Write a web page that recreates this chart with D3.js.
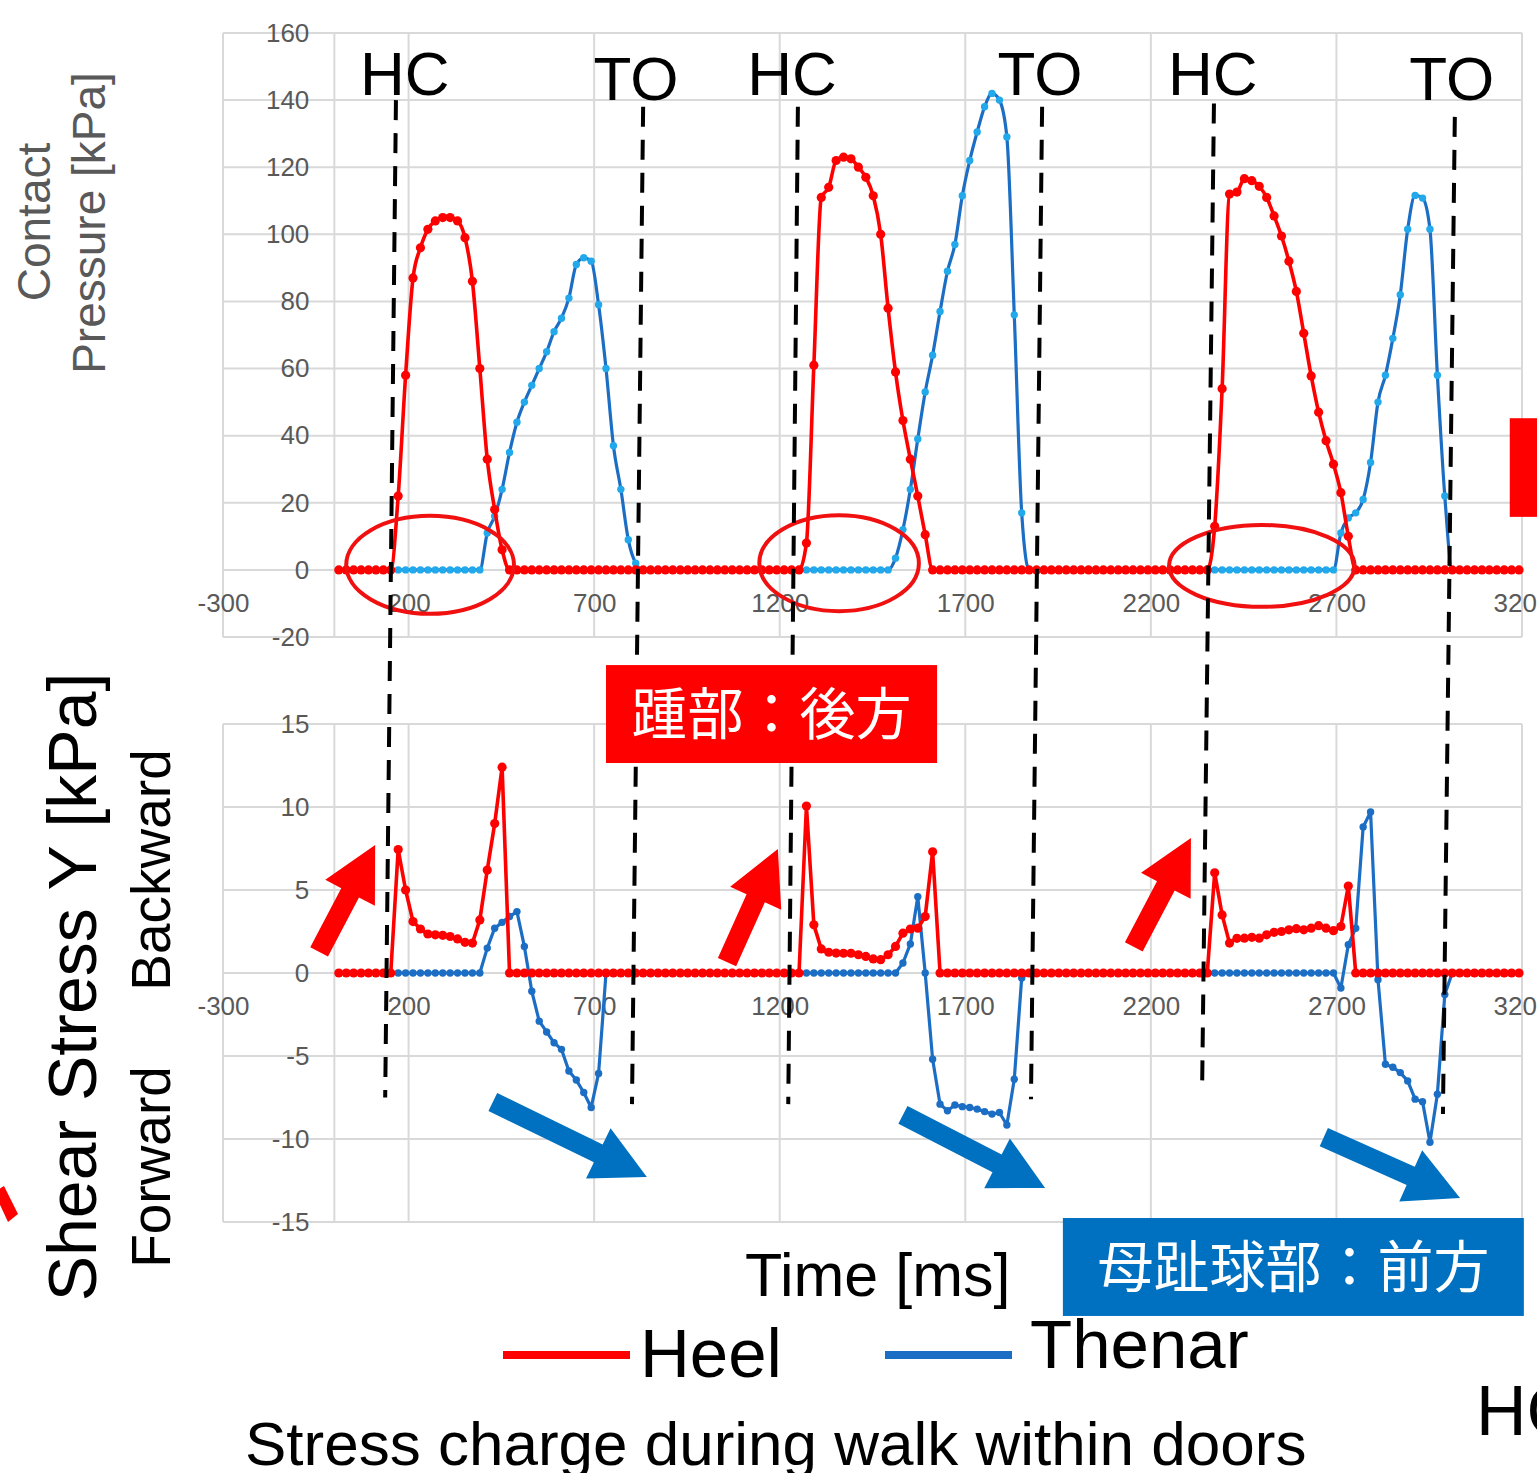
<!DOCTYPE html>
<html>
<head>
<meta charset="utf-8">
<script src="https://cdn.jsdelivr.net/npm/d3@7"></script>
<style>
body { margin: 0; background: #fff; }
text { font-family: "Liberation Sans", Arial, sans-serif; }
</style>
</head>
<body>
<div id="my_dataviz"></div>
<script>
// sample times [ms], one reading every 20 ms
var timeMs = d3.range(12, 3200, 20);

// contact pressure [kPa]
var heelPressure = [
  0, 0, 0, 0, 0, 0, 0, 0, 22, 58, 87, 96, 101.5, 104, 105, 105, 104, 99, 86, 60,
  33, 18, 6, 0, 0, 0, 0, 0, 0, 0, 0, 0, 0, 0, 0, 0, 0, 0, 0, 0,
  0, 0, 0, 0, 0, 0, 0, 0, 0, 0, 0, 0, 0, 0, 0, 0, 0, 0, 0, 0,
  0, 0, 0, 8, 61, 111, 114, 122, 123, 122.5, 120, 117, 111.5, 100, 78, 59, 44.5, 33, 22, 10.5,
  0, 0, 0, 0, 0, 0, 0, 0, 0, 0, 0, 0, 0, 0, 0, 0, 0, 0, 0, 0,
  0, 0, 0, 0, 0, 0, 0, 0, 0, 0, 0, 0, 0, 0, 0, 0, 0, 0, 13, 54,
  112, 112.6, 116.6, 116, 114.3, 111, 105.5, 99.5, 92, 83, 70.5, 57.8, 47, 38.5, 31.5, 23, 10, 0, 0, 0,
  0, 0, 0, 0, 0, 0, 0, 0, 0, 0, 0, 0, 0, 0, 0, 0, 0, 0, 0, 0
];
var thenarPressure = [
  0, 0, 0, 0, 0, 0, 0, 0, 0, 0, 0, 0, 0, 0, 0, 0, 0, 0, 0, 0,
  11, 16, 24, 35, 44, 50, 55, 60, 65, 71, 75, 81, 91, 93, 92, 79, 60, 37, 24, 9,
  2, 0, 0, 0, 0, 0, 0, 0, 0, 0, 0, 0, 0, 0, 0, 0, 0, 0, 0, 0,
  0, 0, 0, 0, 0, 0, 0, 0, 0, 0, 0, 0, 0, 0, 0, 3.5, 12, 24, 39, 53,
  64, 77, 89, 97, 111.5, 122, 130.5, 138, 142, 140, 129, 76, 17, 0, 0, 0, 0, 0, 0, 0,
  0, 0, 0, 0, 0, 0, 0, 0, 0, 0, 0, 0, 0, 0, 0, 0, 0, 0, 0, 0,
  0, 0, 0, 0, 0, 0, 0, 0, 0, 0, 0, 0, 0, 0, 0, 11, 15.5, 17, 21, 32,
  50, 58, 69, 82, 101.5, 111.6, 110.8, 101.5, 58, 22, 0, 0, 0, 0, 0, 0, 0, 0, 0, 0
];

// shear stress Y [kPa], positive = backward
var heelShear = [
  0, 0, 0, 0, 0, 0, 0, 0, 7.44, 5, 3.1, 2.65, 2.35, 2.3, 2.27, 2.2, 2.05, 1.85, 1.8, 3.2,
  6.2, 9, 12.4, 0, 0, 0, 0, 0, 0, 0, 0, 0, 0, 0, 0, 0, 0, 0, 0, 0,
  0, 0, 0, 0, 0, 0, 0, 0, 0, 0, 0, 0, 0, 0, 0, 0, 0, 0, 0, 0,
  0, 0, 0, 10.06, 2.9, 1.45, 1.25, 1.2, 1.19, 1.19, 1.1, 1.0, 0.85, 0.8, 1.1, 1.6, 2.4, 2.65, 2.7, 3.4,
  7.3, 0, 0, 0, 0, 0, 0, 0, 0, 0, 0, 0, 0, 0, 0, 0, 0, 0, 0, 0,
  0, 0, 0, 0, 0, 0, 0, 0, 0, 0, 0, 0, 0, 0, 0, 0, 0, 0, 6.04, 3.5,
  1.8, 2.09, 2.1, 2.15, 2.1, 2.3, 2.45, 2.5, 2.6, 2.67, 2.6, 2.7, 2.85, 2.7, 2.55, 2.8, 5.24, 0, 0, 0,
  0, 0, 0, 0, 0, 0, 0, 0, 0, 0, 0, 0, 0, 0, 0, 0, 0, 0, 0, 0
];
var thenarShear = [
  0, 0, 0, 0, 0, 0, 0, 0, 0, 0, 0, 0, 0, 0, 0, 0, 0, 0, 0, 0,
  1.5, 2.7, 3.05, 3.4, 3.7, 1.6, -1.1, -2.9, -3.55, -4.2, -4.6, -5.9, -6.45, -7.2, -8.1, -6.05, 0, 0, 0, 0,
  0, 0, 0, 0, 0, 0, 0, 0, 0, 0, 0, 0, 0, 0, 0, 0, 0, 0, 0, 0,
  0, 0, 0, 0, 0, 0, 0, 0, 0, 0, 0, 0, 0, 0, 0, 0, 0.6, 1.75, 4.6, 0,
  -5.2, -7.9, -8.3, -7.95, -8.05, -8.1, -8.2, -8.35, -8.5, -8.4, -9.16, -6.4, -0.3, 0, 0, 0, 0, 0, 0, 0,
  0, 0, 0, 0, 0, 0, 0, 0, 0, 0, 0, 0, 0, 0, 0, 0, 0, 0, 0, 0,
  0, 0, 0, 0, 0, 0, 0, 0, 0, 0, 0, 0, 0, 0, 0, -0.9, 1.7, 2.7, 8.8, 9.7,
  -0.4, -5.5, -5.68, -6.0, -6.5, -7.6, -7.75, -10.2, -7.3, -1.3, 0, 0, 0, 0, 0, 0, 0, 0, 0, 0
];

var xTicks = [-300, 200, 700, 1200, 1700, 2200, 2700, 3200];
var pressureTicks = [-20, 0, 20, 40, 60, 80, 100, 120, 140, 160];
var shearTicks = [-15, -10, -5, 0, 5, 10, 15];

// gait events: HC = heel contact, TO = toe off
var eventNames = ["HC", "TO", "HC", "TO", "HC", "TO"];
var eventTimeTop = [166, 832, 1249, 1907, 2370, 3019];
var eventTimeBottom = [137, 802, 1223, 1877, 2338, 2987];
var eventTopKpa = [140, 138, 138, 138, 139, 135];
var eventBottomKpa = [-7.5, -7.9, -7.9, -7.6, -7.2, -8.5];
var eventLabelTime = [190, 813, 1233, 1901, 2367, 3011];
var eventLabelKpa = [141.4, 140, 141.4, 141.4, 141.4, 140];

// rings round the heel-contact zone (top panel)
var ringTime = [258, 1360, 2499];
var ringHalfMs = [226, 215, 250];
var ringKpa = [1.5, 2, 1.2];
var ringHalfKpa = [14.6, 14.3, 12.2];

// arrows in the shear panel: [tail ms, tail kPa, tip ms, tip kPa]
var backwardArrows = [[-41, 1.27, 110, 7.71], [1058, 0.66, 1195, 7.47], [2154, 1.57, 2308, 8.13]];
var forwardArrows = [[427, -7.77, 842, -12.29], [1532, -8.55, 1915, -12.95], [2666, -9.88, 3033, -13.55]];

var red = "#ff0000", blue = "#1c6ec4";

var width = 1537, height = 1473;

var svg = d3.select("#my_dataviz")
  .append("svg")
    .attr("width", width)
    .attr("height", height)
    .style("display", "block");

var x = d3.scaleLinear().domain([-300, 3200]).range([223, 1522]);
var yTop = d3.scaleLinear().domain([-20, 160]).range([637, 33]);
var yBot = d3.scaleLinear().domain([-15, 15]).range([1222, 724]);

// plain hyphen minus, no thousands separator
var fmt = function(d) { return String(d); };

function panel(y, yTicks, heel, thenar, thenarDot, curve) {
  var g = svg.append("g");
  var top = y(y.domain()[1]), bottom = y(y.domain()[0]);

  // grid
  g.selectAll(".hg").data(yTicks).enter().append("line")
    .attr("x1", x(-300)).attr("x2", x(3200))
    .attr("y1", function(d) { return y(d); })
    .attr("y2", function(d) { return y(d); })
    .attr("stroke", "#d9d9d9").attr("stroke-width", 2);
  g.selectAll(".vg").data(xTicks.concat([0])).enter().append("line")
    .attr("x1", function(d) { return x(d); })
    .attr("x2", function(d) { return x(d); })
    .attr("y1", top).attr("y2", bottom)
    .attr("stroke", "#d9d9d9").attr("stroke-width", 2);

  // tick labels sit on the axes crossing at 0
  g.append("g")
    .attr("transform", "translate(" + x(0) + ",0)")
    .call(d3.axisLeft(y).tickValues(yTicks).tickFormat(fmt).tickSize(0).tickPadding(25))
    .call(function(a) { a.select(".domain").remove(); })
    .attr("font-size", 26).attr("font-family", "Liberation Sans, Arial, sans-serif")
    .attr("color", "#595959");
  g.append("g")
    .attr("transform", "translate(0," + y(0) + ")")
    .call(d3.axisBottom(x).tickValues(xTicks).tickFormat(fmt).tickSize(0).tickPadding(24))
    .call(function(a) { a.select(".domain").remove(); })
    .attr("font-size", 26).attr("font-family", "Liberation Sans, Arial, sans-serif")
    .attr("color", "#595959");

  var series = [
    {vals: thenar, stroke: blue, dot: thenarDot, r: 3.7, w: 3.2},
    {vals: heel, stroke: red, dot: red, r: 4.6, w: 3.6}
  ];
  series.forEach(function(s) {
    var pts = timeMs.map(function(t, i) { return {t: t, v: s.vals[i]}; });
    g.append("path")
      .datum(pts)
      .attr("fill", "none")
      .attr("stroke", s.stroke)
      .attr("stroke-width", s.w)
      .attr("stroke-linejoin", "round")
      .attr("d", d3.line()
        .x(function(d) { return x(d.t); })
        .y(function(d) { return y(d.v); })
        .curve(curve));
    g.selectAll(null).data(pts).enter().append("circle")
      .attr("cx", function(d) { return x(d.t); })
      .attr("cy", function(d) { return y(d.v); })
      .attr("r", s.r)
      .attr("fill", s.dot);
  });
}

panel(yTop, pressureTicks, heelPressure, thenarPressure, "#22a9ec", d3.curveMonotoneX);
panel(yBot, shearTicks, heelShear, thenarShear, blue, d3.curveLinear);

// rings
ringTime.forEach(function(t, i) {
  svg.append("ellipse")
    .attr("cx", x(t))
    .attr("cy", yTop(ringKpa[i]))
    .attr("rx", x(t + ringHalfMs[i]) - x(t))
    .attr("ry", yTop(0) - yTop(ringHalfKpa[i]))
    .attr("fill", "none")
    .attr("stroke", "#f01010")
    .attr("stroke-width", 4);
});

// dashed event lines and their labels
eventNames.forEach(function(name, i) {
  svg.append("line")
    .attr("x1", x(eventTimeTop[i])).attr("y1", yTop(eventTopKpa[i]))
    .attr("x2", x(eventTimeBottom[i])).attr("y2", yBot(eventBottomKpa[i]))
    .attr("stroke", "#000")
    .attr("stroke-width", 4)
    .attr("stroke-dasharray", "20,13");
  svg.append("text")
    .attr("x", x(eventLabelTime[i]))
    .attr("y", yTop(eventLabelKpa[i]))
    .attr("text-anchor", "middle")
    .style("font-size", "62px")
    .text(name);
});

// block arrows
function arrowPath(x0, y0, x1, y1) {
  var shaft = 20, headLen = 54, headW = 56;
  var dx = x1 - x0, dy = y1 - y0, len = Math.sqrt(dx * dx + dy * dy);
  var ux = dx / len, uy = dy / len, nx = -uy, ny = ux;
  var bx = x1 - ux * headLen, by = y1 - uy * headLen;
  var p = [
    [x0 + nx * shaft / 2, y0 + ny * shaft / 2],
    [bx + nx * shaft / 2, by + ny * shaft / 2],
    [bx + nx * headW / 2, by + ny * headW / 2],
    [x1, y1],
    [bx - nx * headW / 2, by - ny * headW / 2],
    [bx - nx * shaft / 2, by - ny * shaft / 2],
    [x0 - nx * shaft / 2, y0 - ny * shaft / 2]
  ];
  return "M" + p.map(function(q) { return q.join(","); }).join("L") + "Z";
}
backwardArrows.forEach(function(a) {
  svg.append("path")
    .attr("d", arrowPath(x(a[0]), yBot(a[1]), x(a[2]), yBot(a[3])))
    .attr("fill", red);
});
forwardArrows.forEach(function(a) {
  svg.append("path")
    .attr("d", arrowPath(x(a[0]), yBot(a[1]), x(a[2]), yBot(a[3])))
    .attr("fill", "#0070c0");
});

// labelled boxes
var boxText = ["踵部：後方", "母趾球部：前方"];
var boxFill = [red, "#0070c0"];
var boxMs = [[732, 1624], [1963, 3205]];
var boxKpa = [[18.55, 12.65], [-14.76, -20.66]];
boxText.forEach(function(txt, i) {
  var x0 = x(boxMs[i][0]), x1 = x(boxMs[i][1]);
  var y0 = yBot(boxKpa[i][0]), y1 = yBot(boxKpa[i][1]);
  svg.append("rect")
    .attr("x", x0).attr("y", y0)
    .attr("width", x1 - x0).attr("height", y1 - y0)
    .attr("fill", boxFill[i]);
  svg.append("text")
    .attr("x", (x0 + x1) / 2)
    .attr("y", (y0 + y1) / 2)
    .attr("dy", "0.36em")
    .attr("text-anchor", "middle")
    .style("font-family", "'Noto Sans CJK JP', sans-serif")
    .style("font-size", "56px")
    .style("fill", "#fff")
    .text(txt);
});

// red box cut off at the right edge
svg.append("rect")
  .attr("x", x(3167)).attr("y", yTop(45.2))
  .attr("width", 60).attr("height", yTop(15.8) - yTop(45.2))
  .attr("fill", red);

// red fragment at the left edge
svg.append("path")
  .attr("d", "M-6,1192L4,1186L18,1214L8,1222Z")
  .attr("fill", red);

// y axis titles
svg.append("text")
  .attr("transform", "translate(50,222) rotate(-90)")
  .attr("text-anchor", "middle")
  .style("font-size", "46px").style("fill", "#595959")
  .text("Contact");
svg.append("text")
  .attr("transform", "translate(105,223) rotate(-90)")
  .attr("text-anchor", "middle")
  .style("font-size", "46px").style("fill", "#595959")
  .text("Pressure [kPa]");

svg.append("text")
  .attr("transform", "translate(96,987) rotate(-90)")
  .attr("text-anchor", "middle")
  .style("font-size", "68px")
  .text("Shear Stress Y [kPa]");
svg.append("text")
  .attr("transform", "translate(170,870) rotate(-90)")
  .attr("text-anchor", "middle")
  .style("font-size", "55px")
  .text("Backward");
svg.append("text")
  .attr("transform", "translate(170,1167) rotate(-90)")
  .attr("text-anchor", "middle")
  .style("font-size", "55px")
  .text("Forward");

// x axis title
svg.append("text")
  .attr("x", 745).attr("y", 1296)
  .style("font-size", "61px")
  .text("Time [ms]");

// legend
var legendNames = ["Heel", "Thenar"];
var legendColors = [red, blue];
var legendX = [503, 885];
var legendBase = [1377, 1368];
legendNames.forEach(function(n, i) {
  svg.append("line")
    .attr("x1", legendX[i]).attr("x2", legendX[i] + 127)
    .attr("y1", 1355).attr("y2", 1355)
    .attr("stroke", legendColors[i])
    .attr("stroke-width", 8);
  svg.append("text")
    .attr("x", legendX[i] + 137 + i * 8)
    .attr("y", legendBase[i])
    .style("font-size", "69px")
    .text(n);
});

// caption and cut-off label
svg.append("text")
  .attr("x", 245).attr("y", 1465)
  .style("font-size", "62px")
  .text("Stress charge during walk within doors");
svg.append("text")
  .attr("x", 1476).attr("y", 1435)
  .style("font-size", "70px")
  .text("HC");
</script>
</body>
</html>
